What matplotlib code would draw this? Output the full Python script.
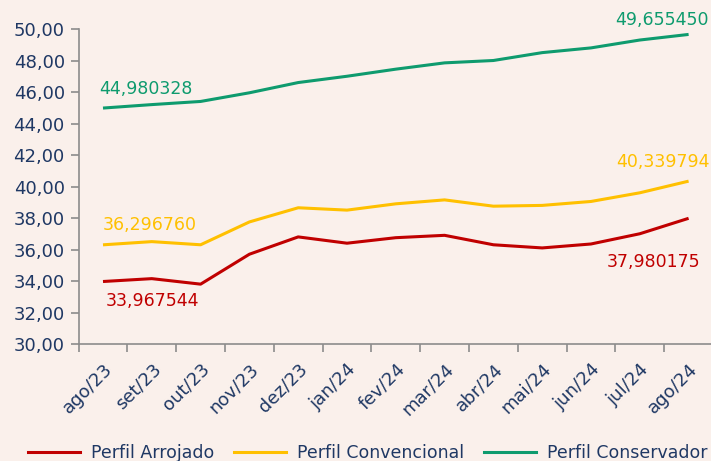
import matplotlib.pyplot as plt
from matplotlib.lines import Line2D

months = ['ago/23', 'set/23', 'out/23', 'nov/23', 'dez/23', 'jan/24', 'fev/24',
          'mar/24', 'abr/24', 'mai/24', 'jun/24', 'jul/24', 'ago/24']
arrojado = [33.967544, 34.15, 33.80, 35.70, 36.80, 36.40, 36.75, 36.90, 36.30,
            36.10, 36.35, 37.00, 37.980175]
convencional = [36.296760, 36.50, 36.30, 37.75, 38.65, 38.50, 38.90, 39.15,
                38.75, 38.80, 39.05, 39.60, 40.339794]
conservador = [44.980328, 45.20, 45.40, 45.95, 46.60, 47.00, 47.45, 47.85,
               48.00, 48.50, 48.80, 49.30, 49.655450]
yticks = [30, 32, 34, 36, 38, 40, 42, 44, 46, 48, 50]

bg = '#FAF0EB'
txt = '#1F3864'
c_red = '#C00000'
c_yel = '#FFC000'
c_grn = '#0E9B6E'
grey = '#8C8C8C'

plt.rcParams['font.family'] = ['DejaVu Sans']


def fmt(v, nd):
    return f'{v:.{nd}f}'.replace('.', ',')


fig = plt.figure(figsize=(7.11, 4.61), dpi=100, facecolor=bg)
ax = fig.add_axes([78.6 / 711, 1 - 344 / 461, (713 - 78.6) / 711, (344 - 29) / 461])
ax.set_facecolor(bg)

x = list(range(len(months)))
ax.plot(x, arrojado, color=c_red, lw=2.2, solid_capstyle='butt')
ax.plot(x, convencional, color=c_yel, lw=2.2, solid_capstyle='butt')
ax.plot(x, conservador, color=c_grn, lw=2.2, solid_capstyle='butt')

ax.set_xlim(-0.5, 12.5)
ax.set_ylim(30, 50)
ax.set_yticks(yticks)
ax.set_yticklabels([fmt(v, 2) for v in yticks], color=txt, fontsize=13)

# ticks between categories, labels centred on categories
ax.set_xticks([i - 0.5 for i in range(len(months) + 1)])
ax.set_xticklabels([])
ax.set_xticks(x, minor=True)
ax.set_xticklabels(months, minor=True, rotation=45, ha='right', va='top',
                   rotation_mode='anchor', color=txt, fontsize=13)
ax.tick_params(axis='x', which='minor', length=0, pad=11.5)
ax.tick_params(axis='x', which='major', length=6, color=grey, width=1.2)
ax.tick_params(axis='y', length=6, color=grey, width=1.2, pad=4)

for s in ['top', 'right']:
    ax.spines[s].set_visible(False)
for s in ['left', 'bottom']:
    ax.spines[s].set_color(grey)
    ax.spines[s].set_linewidth(1.2)

# data labels (offsets in pixels from the point)
labels = [
    (conservador, 0, (-4, 19), c_grn),
    (conservador, 12, (-73, 14), c_grn),
    (convencional, 0, (0, 20), c_yel),
    (convencional, 12, (-72, 19), c_yel),
    (arrojado, 0, (3, -19), c_red),
    (arrojado, 12, (-82, -44), c_red),
]
for series, i, off, col in labels:
    ax.annotate(fmt(series[i], 6), (i, series[i]), xytext=off,
                textcoords='offset pixels', ha='left', va='center',
                color=col, fontsize=12.5)

handles = [Line2D([], [], color=c_red, lw=2.2),
           Line2D([], [], color=c_yel, lw=2.2),
           Line2D([], [], color=c_grn, lw=2.2)]
fig.legend(handles, ['Perfil Arrojado', 'Perfil Convencional', 'Perfil Conservador'],
           loc='center left', bbox_to_anchor=(12 / 711, 1 - 453 / 461), ncol=3,
           frameon=False, fontsize=12.5, labelcolor=txt, handlelength=3.0,
           columnspacing=1.15, handletextpad=0.63)

fig.savefig('out.png', dpi=100, facecolor=bg)
